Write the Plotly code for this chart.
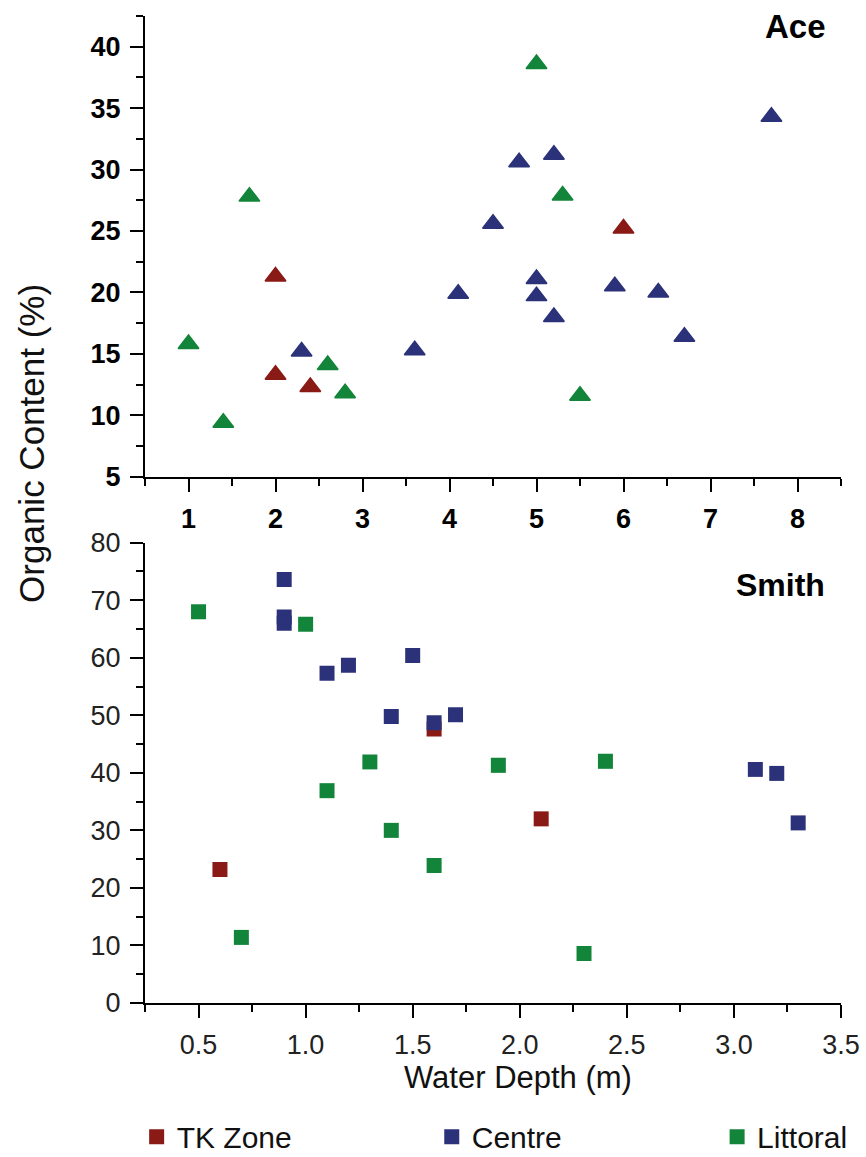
import plotly.graph_objects as go

# ---------------- data ----------------
# Ace (top panel)
ace_tk_x = [2.0, 2.0, 2.4, 6.0]
ace_tk_y = [21.3, 13.3, 12.3, 25.2]
ace_centre_x = [2.3, 3.6, 4.1, 4.5, 4.8, 5.0, 5.0, 5.2, 5.2, 5.9, 6.4, 6.7, 7.7]
ace_centre_y = [15.2, 15.3, 19.9, 25.6, 30.6, 21.1, 19.7, 31.2, 18.0, 20.5, 20.0, 16.4, 34.3]
ace_litt_x = [1.0, 1.4, 1.7, 2.6, 2.8, 5.0, 5.3, 5.5]
ace_litt_y = [15.8, 9.4, 27.8, 14.1, 11.8, 38.6, 27.9, 11.6]

# Smith (bottom panel)
smith_tk_x = [0.6, 1.6, 2.1]
smith_tk_y = [23.2, 47.6, 32.0]
smith_centre_x = [0.9, 0.9, 0.9, 1.1, 1.2, 1.4, 1.5, 1.6, 1.7, 3.1, 3.2, 3.3]
smith_centre_y = [73.6, 67.1, 66.0, 57.3, 58.7, 49.8, 60.4, 48.7, 50.1, 40.6, 39.9, 31.3]
smith_litt_x = [0.5, 0.7, 1.0, 1.1, 1.3, 1.4, 1.6, 1.9, 2.3, 2.4]
smith_litt_y = [68.0, 11.4, 65.8, 36.9, 41.9, 30.0, 23.9, 41.3, 8.6, 42.0]

zones = ["TK Zone", "Centre", "Littoral"]
colors = {"TK Zone": "#8a1a16", "Centre": "#2b3279", "Littoral": "#13853a"}

FONT = "Liberation Sans, Arial, sans-serif"

fig = go.Figure()

ace = {"TK Zone": (ace_tk_x, ace_tk_y), "Centre": (ace_centre_x, ace_centre_y),
       "Littoral": (ace_litt_x, ace_litt_y)}
smith = {"TK Zone": (smith_tk_x, smith_tk_y), "Centre": (smith_centre_x, smith_centre_y),
         "Littoral": (smith_litt_x, smith_litt_y)}

for z in zones:
    x, y = ace[z]
    fig.add_trace(go.Scatter(x=x, y=y, mode="markers", name=z, showlegend=False,
                             marker=dict(symbol="triangle-up", size=18, color=colors[z],
                                         line=dict(width=1.5, color=colors[z])),
                             xaxis="x", yaxis="y"))

legend_ids = {"TK Zone": "legend", "Centre": "legend2", "Littoral": "legend3"}
for z in zones:
    x, y = smith[z]
    fig.add_trace(go.Scatter(x=x, y=y, mode="markers", name=z, showlegend=True,
                             legend=legend_ids[z],
                             marker=dict(symbol="square", size=15, color=colors[z]),
                             xaxis="x2", yaxis="y2"))

axis_common = dict(showline=True, linecolor="black", linewidth=2, ticks="outside",
                   ticklen=13, tickwidth=2, tickcolor="black", showgrid=False,
                   zeroline=False, mirror=False, ticklabelstandoff=4)

top_font = dict(family=FONT, size=27, color="black", weight="bold")
bot_font = dict(family=FONT, size=27, color="#222222")

fig.update_layout(
    width=866, height=1157,
    margin=dict(l=145, r=25, t=16, b=154, autoexpand=False),
    paper_bgcolor="white", plot_bgcolor="white",
    xaxis=dict(domain=[0, 1], range=[0.5, 8.5], anchor="y", tick0=1, dtick=1,
               tickfont=top_font,
               minor=dict(ticks="outside", ticklen=7, tickwidth=2, tickcolor="black",
                          tick0=0.5, dtick=0.5),
               **axis_common),
    yaxis=dict(domain=[0.5332, 1], range=[5, 42.5], anchor="x", tick0=5, dtick=5,
               tickfont=top_font,
               minor=dict(ticks="outside", ticklen=7, tickwidth=2, tickcolor="black",
                          tick0=5, dtick=2.5),
               **axis_common),
    xaxis2=dict(domain=[0, 1], range=[0.25, 3.5], anchor="y2", tick0=0.5, dtick=0.5,
                tickformat=".1f", tickfont=bot_font,
                minor=dict(ticks="outside", ticklen=7, tickwidth=2, tickcolor="black",
                           tick0=0.25, dtick=0.25),
                **axis_common),
    yaxis2=dict(domain=[0, 0.4664], range=[0, 80], anchor="x2", tick0=0, dtick=10,
                tickfont=bot_font,
                minor=dict(ticks="outside", ticklen=7, tickwidth=2, tickcolor="black",
                           tick0=0, dtick=5),
                **axis_common),
    font=dict(family=FONT, color="black"),
)

leg_common = dict(orientation="h", yanchor="middle", xanchor="left",
                  font=dict(family=FONT, size=30, color="#111111"),
                  bgcolor="rgba(0,0,0,0)", borderwidth=0)
fig.update_layout(
    legend=dict(x=-0.012, y=-0.1355, **leg_common),
    legend2=dict(x=0.412, y=-0.1355, **leg_common),
    legend3=dict(x=0.822, y=-0.1355, **leg_common),
)

fig.add_annotation(text="Ace", xref="paper", yref="paper", x=0.9813, y=0.9894,
                   xanchor="right", yanchor="middle", showarrow=False,
                   font=dict(family=FONT, size=33, color="black", weight="bold"))
fig.add_annotation(text="Smith", xref="paper", yref="paper", x=0.980, y=0.4235,
                   xanchor="right", yanchor="middle", showarrow=False,
                   font=dict(family=FONT, size=32, color="black", weight="bold"))
fig.add_annotation(text="Water Depth (m)", xref="paper", yref="paper", x=0.5366, y=-0.075,
                   xanchor="center", yanchor="middle", showarrow=False,
                   font=dict(family=FONT, size=31, color="#111111"))
fig.add_annotation(text="Organic Content (%)", xref="paper", yref="paper", x=-0.163, y=0.567,
                   xanchor="center", yanchor="middle", showarrow=False, textangle=-90,
                   font=dict(family=FONT, size=35, color="#111111"))

fig.write_html("out.html")
